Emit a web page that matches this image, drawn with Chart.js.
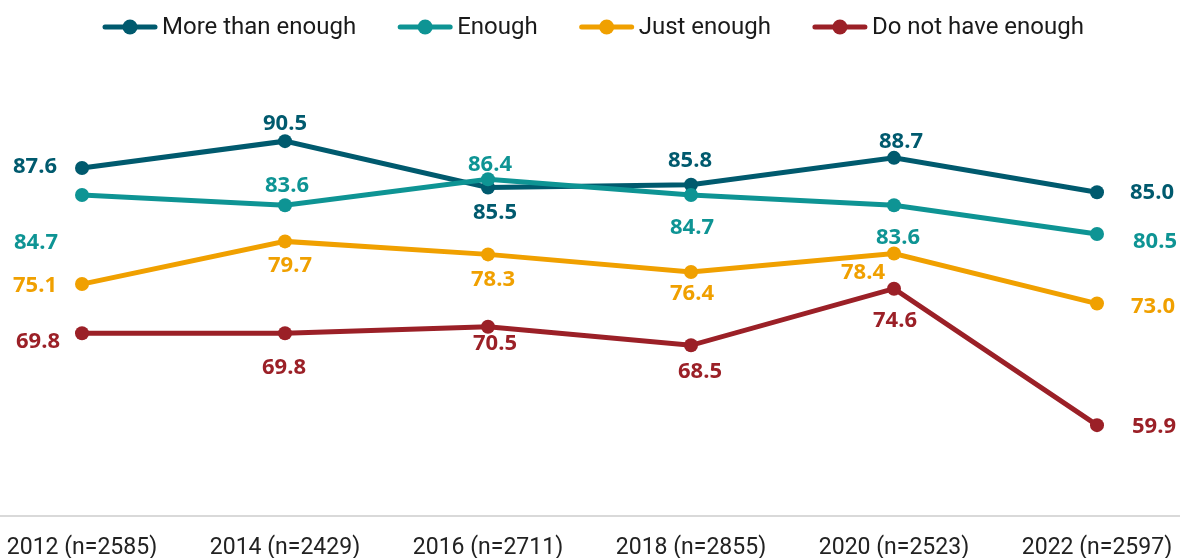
<!DOCTYPE html>
<html>
<head>
<meta charset="utf-8">
<script src="https://cdn.jsdelivr.net/npm/chart.js@4/dist/chart.umd.min.js"></script>
<style>
  html, body { margin: 0; padding: 0; background: #fff; overflow: hidden; }
  #wrap { width: 1180px; height: 579px; position: relative; }
</style>
</head>
<body>
<div id="wrap"><canvas id="trendChart"></canvas></div>
<script>
// data
const years = ["2012 (n=2585)", "2014 (n=2429)", "2016 (n=2711)", "2018 (n=2855)", "2020 (n=2523)", "2022 (n=2597)"];
const moreThanEnough = [87.6, 90.5, 85.5, 85.8, 88.7, 85.0];
const enough = [84.7, 83.6, 86.4, 84.7, 83.6, 80.5];
const justEnough = [75.1, 79.7, 78.3, 76.4, 78.4, 73.0];
const notEnough = [69.8, 69.8, 70.5, 68.5, 74.6, 59.9];
const seriesNames = ["More than enough", "Enough", "Just enough", "Do not have enough"];
const seriesColors = ["#005a6e", "#0e9494", "#f0a000", "#9b2027"];

// where each value label sits, relative to its point (label centre)
const labelOffsets = [
  [[-47, -3], [0, -19], [7, 23], [-1, -26], [7, -18], [55, -1]],
  [[-46, 46], [2, -21], [2, -16], [1, 31], [4, 31], [58, 6]],
  [[-47, 0], [5, 23], [5, 24], [1, 20], [-31, 18], [56, 1]],
  [[-44, 7], [-1, 33], [7, 15], [9, 25], [1, 30], [57, 0]],
];

const seriesValues = [moreThanEnough, enough, justEnough, notEnough];
const drawOrder = [2, 1, 3, 4];

let datasets = [];
seriesValues.forEach((vals, i) => {
  datasets.push({
    label: seriesNames[i],
    data: vals,
    borderColor: seriesColors[i],
    backgroundColor: seriesColors[i],
    pointBackgroundColor: seriesColors[i],
    borderWidth: 5,
    pointRadius: 7,
    pointBorderWidth: 0,
    pointHoverRadius: 7,
    tension: 0,
    clip: false,
    order: drawOrder[i],
  });
});

// full width baseline under the plot
const baseLine = {
  id: "baseLine",
  beforeDatasetsDraw(chart) {
    const ctx = chart.ctx;
    const y = chart.chartArea.bottom - 1;
    ctx.save();
    ctx.strokeStyle = "#d9d9d9";
    ctx.lineWidth = 2;
    ctx.beginPath();
    ctx.moveTo(0, y);
    ctx.lineTo(chart.width, y);
    ctx.stroke();
    ctx.restore();
  },
};

// value labels
const valueLabels = {
  id: "valueLabels",
  afterDatasetsDraw(chart) {
    const ctx = chart.ctx;
    ctx.save();
    ctx.font = "700 22px 'Open Sans'";
    ctx.textAlign = "center";
    ctx.textBaseline = "alphabetic";
    chart.data.datasets.forEach((ds, i) => {
      const meta = chart.getDatasetMeta(i);
      ctx.fillStyle = seriesColors[i];
      meta.data.forEach((pt, j) => {
        const off = labelOffsets[i][j];
        ctx.fillText(ds.data[j].toFixed(1), pt.x + off[0], pt.y + off[1] + 8);
      });
    });
    ctx.restore();
  },
};

// legend: line with dot, then the name
const lineLegend = {
  id: "lineLegend",
  afterDraw(chart) {
    const ctx = chart.ctx;
    const markW = 56, gapText = 4, gapItem = 41, y = 27;
    ctx.save();
    ctx.font = "24px Roboto";
    ctx.textBaseline = "middle";
    ctx.textAlign = "left";
    const widths = seriesNames.map((n) => ctx.measureText(n).width);
    let total = 0;
    widths.forEach((w, i) => {
      total += markW + gapText + w + (i < widths.length - 1 ? gapItem : 0);
    });
    let x = Math.round(chart.width / 2 - total / 2) + 3;
    seriesNames.forEach((name, i) => {
      ctx.strokeStyle = seriesColors[i];
      ctx.fillStyle = seriesColors[i];
      ctx.lineWidth = 5;
      ctx.lineCap = "round";
      ctx.beginPath();
      ctx.moveTo(x + 3, y);
      ctx.lineTo(x + markW - 3, y);
      ctx.stroke();
      ctx.beginPath();
      ctx.arc(x + markW / 2, y, 7.5, 0, Math.PI * 2);
      ctx.fill();
      ctx.fillStyle = "#1a1a1a";
      ctx.fillText(name, x + markW + gapText, y + 1);
      x += markW + gapText + widths[i] + gapItem;
    });
    ctx.restore();
  },
};

let chart = new Chart(document.querySelector("#trendChart"), {
  type: "line",
  data: { labels: years, datasets: datasets },
  plugins: [baseLine, valueLabels, lineLegend],
  options: {
    responsive: true,
    maintainAspectRatio: false,
    animation: false,
    layout: { autoPadding: false, padding: { left: 82, right: 83, top: 53, bottom: 0 } },
    plugins: {
      legend: { display: false },
      tooltip: { enabled: false },
    },
    scales: {
      x: {
        offset: false,
        grid: { display: false, drawTicks: false },
        border: { display: false },
        ticks: {
          color: "#222",
          font: { family: "Roboto", size: 23, lineHeight: 54 / 23 },
          padding: 4,
          autoSkip: false,
          maxRotation: 0,
        },
      },
      y: { display: false, min: 50, max: 100 },
    },
  },
});
</script>
</body>
</html>
